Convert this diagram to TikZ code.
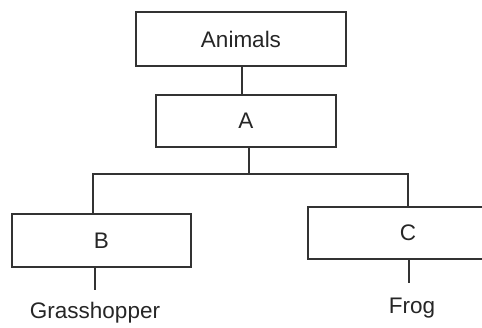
\documentclass[tikz,border=0pt]{standalone}
\usepackage{fontspec}
\setmainfont{Liberation Sans}
\begin{document}
\begin{tikzpicture}[x=1pt,y=-1pt,
  box/.style={draw=black!80, line width=1.6pt, rectangle, inner sep=0pt, font=\fontsize{22.5}{27}\selectfont, text=black!85},
  conn/.style={draw=black!80, line width=1.6pt},
  lbl/.style={inner sep=0pt, font=\fontsize{22.5}{27}\selectfont, text=black!85}]
\useasboundingbox (0,0) rectangle (482,327);
\fill[white] (0,0) rectangle (482,327);
\begin{scope}
\clip (0,0) rectangle (482,327);
\node[box, minimum width=210pt, minimum height=54pt] (animals) at (241,39) {Animals};
\node[box, minimum width=180pt, minimum height=52pt] (A) at (246,121) {A};
\node[box, minimum width=179pt, minimum height=53pt] (B) at (101.5,240.5) {B};
\node[box, minimum width=200pt, minimum height=52pt] (C) at (408,233) {C};
\node[lbl] (grass) at (95,313) {Grasshopper};
\node[lbl] (frog) at (412,308) {Frog};
\coordinate (bus) at (249,174);
\coordinate (bend) at (93,174);
\coordinate (gtop) at (95,290);
\coordinate (ftop) at (409,283);
\draw[conn] ([xshift=1pt]animals.south) -- ([xshift=1pt]animals.south |- A.north);
\draw[conn] ([xshift=3pt]A.south) -- (bus);
\draw[conn] ([xshift=-8.5pt]B.north) -- (bend) -- (bus) -| (C.north);
\draw[conn] ([xshift=-6.5pt]B.south) -- (gtop);
\draw[conn] ([xshift=1pt]C.south) -- (ftop);
\end{scope}
\end{tikzpicture}
\end{document}
